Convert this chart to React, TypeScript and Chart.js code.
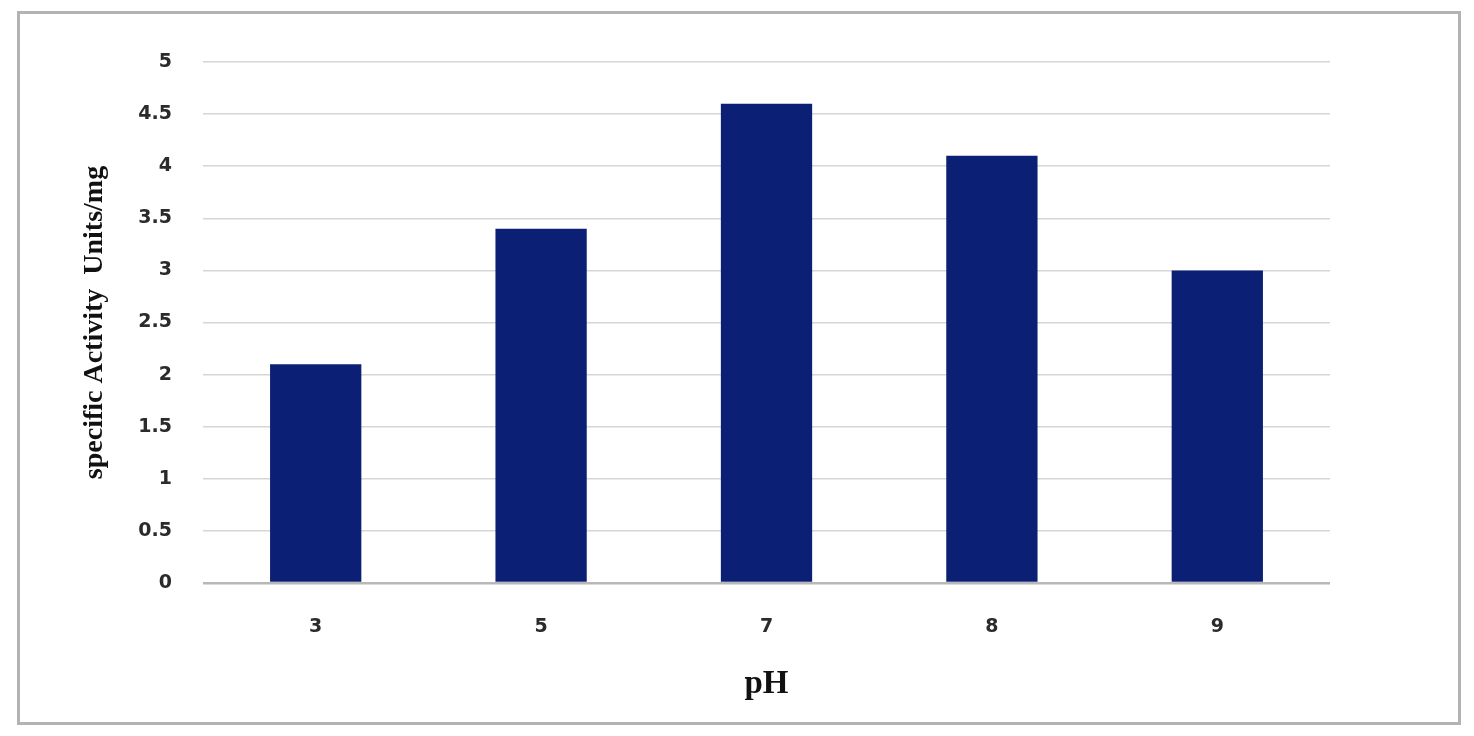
import React, { useEffect, useRef } from "react";
import { Chart, registerables } from "chart.js";

Chart.register(...registerables);

const categories = ["3", "5", "7", "8", "9"];
const activity = [2.1, 3.4, 4.6, 4.1, 3.0];
const yTitle = "specific Activity  Units/mg";
const xTitle = "pH";

export default function App() {
  const ref = useRef<HTMLCanvasElement | null>(null);

  useEffect(() => {
    document.body.style.margin = "0";
    const canvas = ref.current;
    if (!canvas) return;
    const chart = new Chart(canvas, {
      type: "bar",
      data: {
        labels: categories,
        datasets: [
          {
            data: activity,
            backgroundColor: (c: any) => {
              const ch = c.chart;
              const el = c.element;
              if (!ch || !ch.chartArea || !el) return "#0b2075";
              const x0 = el.x - el.width / 2;
              const x1 = el.x + el.width / 2;
              if (!Number.isFinite(x0) || !Number.isFinite(x1) || x1 <= x0) return "#0b2075";
              const g = ch.ctx.createLinearGradient(x0, 0, x1, 0);
              g.addColorStop(0, "#071870");
              g.addColorStop(0.08, "#0a1d78");
              g.addColorStop(0.5, "#0d2684");
              g.addColorStop(1, "#0a1e76");
              return g;
            },
            borderWidth: 0,
            barPercentage: 0.9,
            categoryPercentage: 0.45,
          },
        ],
      },
      options: {
        animation: false,
        responsive: false,
        devicePixelRatio: 1,
        layout: { padding: { left: 0, top: 62, right: 144, bottom: 0 } },
        plugins: { legend: { display: false }, tooltip: { enabled: false } },
        scales: {
          x: {
            afterFit: (s: any) => {
              s.height = 153;
            },
            grid: { display: false, drawTicks: false },
            border: { display: false },
            ticks: {
              padding: 33,
              color: "#2b2b2b",
              font: { family: "'DejaVu Sans', Verdana, sans-serif", size: 19, weight: "bold" },
            },
            title: {
              display: true,
              text: xTitle,
              color: "#111111",
              padding: { top: 0, bottom: 32 },
              font: { family: "'Liberation Serif', 'Times New Roman', serif", size: 33, weight: "bold" },
            },
          },
          y: {
            min: 0,
            max: 5,
            afterFit: (s: any) => {
              s.width = 203;
            },
            ticks: {
              stepSize: 0.5,
              padding: 31,
              color: "#2b2b2b",
              callback: (v: any) => `${Number(v)}`,
              font: { family: "'DejaVu Sans', Verdana, sans-serif", size: 19, weight: "bold" },
            },
            grid: {
              drawTicks: false,
              color: (c: any) => (c.tick && c.tick.value === 0 ? "#b8b8b8" : "#d6d6d6"),
              lineWidth: (c: any) => (c.tick && c.tick.value === 0 ? 2.5 : 1.5),
            },
            border: { display: false },
            title: {
              display: true,
              text: yTitle,
              color: "#111111",
              padding: { top: 78, bottom: 0 },
              font: { family: "'Liberation Serif', 'Times New Roman', serif", size: 28, weight: "bold" },
            },
          },
        },
      },
    } as any);
    return () => chart.destroy();
  }, []);

  return (
    <div style={{ position: "relative", width: 1474, height: 736, background: "#ffffff" }}>
      <div
        style={{
          position: "absolute",
          left: 17,
          top: 11,
          width: 1444,
          height: 714,
          boxSizing: "border-box",
          border: "3px solid #b3b3b3",
        }}
      />
      <canvas ref={ref} width={1474} height={736} style={{ position: "absolute", left: 0, top: 0 }} />
    </div>
  );
}
